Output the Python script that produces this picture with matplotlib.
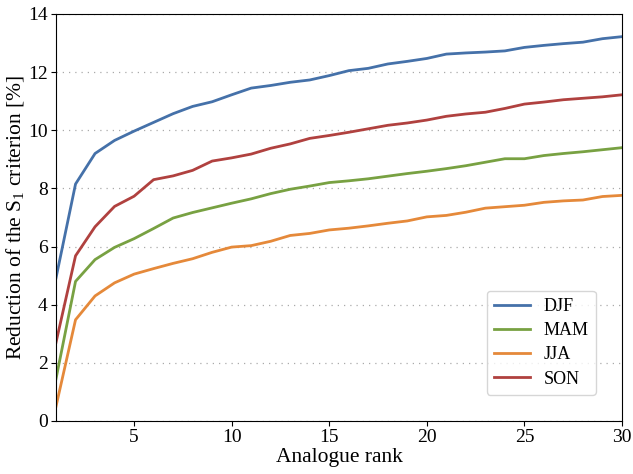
import numpy as np
import matplotlib
matplotlib.use("Agg")
import matplotlib.pyplot as plt

# analogue ranks and reduction per season
rank = list(range(1, 31))
djf = [4.92, 8.15, 9.2, 9.65, 9.97, 10.27, 10.57, 10.82, 10.98, 11.22,
       11.45, 11.54, 11.65, 11.73, 11.88, 12.05, 12.13, 12.28, 12.37, 12.47,
       12.62, 12.66, 12.69, 12.73, 12.85, 12.92, 12.98, 13.03, 13.15, 13.22]
mam = [1.45, 4.8, 5.55, 5.97, 6.27, 6.62, 6.98, 7.17, 7.33, 7.49,
       7.64, 7.82, 7.97, 8.08, 8.2, 8.26, 8.33, 8.42, 8.51, 8.59,
       8.68, 8.78, 8.9, 9.02, 9.02, 9.13, 9.2, 9.26, 9.33, 9.4]
jja = [0.5, 3.48, 4.3, 4.75, 5.05, 5.24, 5.42, 5.58, 5.8, 5.98,
       6.03, 6.18, 6.38, 6.45, 6.57, 6.63, 6.71, 6.8, 6.88, 7.02,
       7.07, 7.18, 7.32, 7.37, 7.42, 7.52, 7.57, 7.6, 7.72, 7.76]
son = [2.7, 5.68, 6.68, 7.38, 7.73, 8.3, 8.43, 8.62, 8.94, 9.05,
       9.18, 9.38, 9.53, 9.72, 9.82, 9.93, 10.05, 10.17, 10.25, 10.35,
       10.48, 10.56, 10.62, 10.75, 10.9, 10.97, 11.05, 11.1, 11.15, 11.22]

plt.rcParams['font.family'] = ['Liberation Serif']
plt.rcParams['mathtext.fontset'] = 'custom'
plt.rcParams['mathtext.rm'] = 'Liberation Serif'

fig, ax = plt.subplots(figsize=(6.33, 4.74), dpi=100)
ax.plot(rank, djf, color="#4571a9", lw=2, label="DJF")
ax.plot(rank, mam, color="#78a142", lw=2, label="MAM")
ax.plot(rank, jja, color="#e5893a", lw=2, label="JJA")
ax.plot(rank, son, color="#b0413f", lw=2, label="SON")

ax.set_xlim(1, 30)
ax.set_ylim(0, 14)
ax.set_yticks(np.arange(0, 15, 2))
ax.set_xticks([5, 10, 15, 20, 25, 30])
ax.yaxis.grid(True, linestyle=(0, (1, 4)), color="#aaaaaa", lw=0.9)
ax.set_axisbelow(True)
ax.tick_params(labelsize=14, pad=2.5)
ax.set_xlabel("Analogue rank", fontsize=15.5, labelpad=1)
ax.set_ylabel("Reduction of the S$_\\mathrm{1}$ criterion [%]", fontsize=15.5)
ax.yaxis.set_label_coords(-0.051, 0.5)
ax.legend(loc="lower right", fontsize=13, borderaxespad=1.45, handlelength=2.0,
          handletextpad=0.75, labelspacing=0.4)

plt.subplots_adjust(left=0.0885, right=0.9826, top=0.9705, bottom=0.112)
plt.savefig("out.png")
